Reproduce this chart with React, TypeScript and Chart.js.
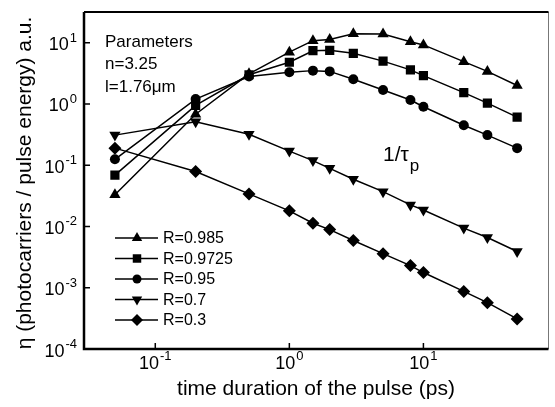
import React, { useEffect, useRef } from 'react';
import { Chart, registerables } from 'chart.js';

Chart.register(...registerables);

// ---- data ----
const durations = [0.05, 0.2, 0.5, 1, 1.5, 2, 3, 5, 8, 10, 20, 30, 50];
const seriesLabels = ['R=0.985', 'R=0.9725', 'R=0.95', 'R=0.7', 'R=0.3'];
const seriesMarkers = ['triangle', 'rect', 'circle', 'triangleDown', 'rectRot'];
const r0985 = [0.033, 0.68, 3.1, 7.0, 10.8, 11.3, 14.0, 13.9, 10.4, 9.2, 4.9, 3.4, 2.0];
const r09725 = [0.069, 0.95, 3.0, 4.8, 7.4, 7.5, 6.7, 5.0, 3.6, 2.9, 1.53, 1.03, 0.61];
const r095 = [0.125, 1.2, 2.8, 3.3, 3.5, 3.4, 2.53, 1.69, 1.16, 0.9, 0.45, 0.31, 0.19];
const r07 = [0.31, 0.51, 0.32, 0.17, 0.119, 0.089, 0.059, 0.037, 0.0225, 0.0186, 0.0094, 0.0066, 0.0039];
const r03 = [0.19, 0.079, 0.034, 0.018, 0.0113, 0.0089, 0.0059, 0.0036, 0.0023, 0.00177, 0.00087, 0.00057, 0.00031];
const seriesValues = [r0985, r09725, r095, r07, r03];

const xTickValues = [0.1, 1, 10];
const yTickValues = [1e-4, 1e-3, 1e-2, 1e-1, 1, 10];
const xTitle = 'time duration of the pulse (ps)';
const yTitle = 'η (photocarriers / pulse energy) a.u.';
const paramLines = ['Parameters', 'n=3.25', 'l=1.76μm'];
const slopeMain = '1/τ';
const slopeSub = 'p';

const xRange = [0.0294, 85.7];
const yRange = [1e-4, 31.7];

const FONT = '"Liberation Sans", Arial, Helvetica, sans-serif';

function markerPath(ctx: CanvasRenderingContext2D, style: string, x: number, y: number, r: number) {
  ctx.beginPath();
  if (style === 'triangle') {
    ctx.moveTo(x, y - r);
    ctx.lineTo(x + r * 0.866, y + r * 0.5);
    ctx.lineTo(x - r * 0.866, y + r * 0.5);
  } else if (style === 'triangleDown') {
    ctx.moveTo(x, y + r);
    ctx.lineTo(x + r * 0.866, y - r * 0.5);
    ctx.lineTo(x - r * 0.866, y - r * 0.5);
  } else if (style === 'rect') {
    const s = r * Math.SQRT1_2;
    ctx.rect(x - s, y - s, 2 * s, 2 * s);
  } else if (style === 'rectRot') {
    ctx.moveTo(x, y - r);
    ctx.lineTo(x + r, y);
    ctx.lineTo(x, y + r);
    ctx.lineTo(x - r, y);
  } else {
    ctx.arc(x, y, r, 0, Math.PI * 2);
  }
  ctx.closePath();
  ctx.fill();
}

function drawPow(ctx: CanvasRenderingContext2D, v: number, x: number, y: number, align: 'right' | 'center') {
  const exp = String(Math.round(Math.log10(v)));
  ctx.font = `18px ${FONT}`;
  const w1 = ctx.measureText('10').width;
  ctx.font = `13px ${FONT}`;
  const w2 = ctx.measureText(exp).width;
  const total = w1 + w2 + 1;
  const sx = align === 'right' ? x - total : x - total / 2;
  ctx.textAlign = 'left';
  ctx.textBaseline = 'alphabetic';
  ctx.font = `18px ${FONT}`;
  ctx.fillText('10', sx, y + 6.5);
  ctx.font = `13px ${FONT}`;
  ctx.fillText(exp, sx + w1 + 1, y - 2);
}

const overlay = {
  id: 'overlay',
  afterDraw(chart: any) {
    const ctx: CanvasRenderingContext2D = chart.ctx;
    const { left, right, top, bottom } = chart.chartArea;
    const xs = chart.scales.x;
    const ys = chart.scales.y;
    ctx.save();
    ctx.strokeStyle = '#000';
    ctx.fillStyle = '#000';
    // frame: thin grey right side, heavier left/bottom
    ctx.lineWidth = 1;
    ctx.strokeStyle = '#777';
    ctx.beginPath();
    ctx.moveTo(right, top);
    ctx.lineTo(right, bottom);
    ctx.stroke();
    ctx.strokeStyle = '#000';
    ctx.lineWidth = 2;
    ctx.beginPath();
    ctx.moveTo(left, top);
    ctx.lineTo(right, top);
    ctx.stroke();
    ctx.lineWidth = 2.5;
    ctx.beginPath();
    ctx.moveTo(left, top);
    ctx.lineTo(left, bottom);
    ctx.lineTo(right, bottom);
    ctx.stroke();
    // inward ticks
    ctx.lineWidth = 1.5;
    ctx.beginPath();
    for (const v of xTickValues) {
      const px = xs.getPixelForValue(v);
      ctx.moveTo(px, bottom);
      ctx.lineTo(px, bottom - 6);
    }
    for (const v of yTickValues) {
      const py = ys.getPixelForValue(v);
      ctx.moveTo(left, py);
      ctx.lineTo(left + 6, py);
    }
    ctx.stroke();
    // tick labels
    for (const v of xTickValues) drawPow(ctx, v, xs.getPixelForValue(v), 362, 'center');
    for (const v of yTickValues) drawPow(ctx, v, left - 7, ys.getPixelForValue(v) + 1, 'right');
    // axis titles
    ctx.font = `21px ${FONT}`;
    ctx.textAlign = 'center';
    ctx.textBaseline = 'middle';
    ctx.fillText(xTitle, 316, 389);
    ctx.save();
    ctx.translate(25, 183);
    ctx.rotate(-Math.PI / 2);
    ctx.fillText(yTitle, 0, 0);
    ctx.restore();
    // parameters
    ctx.font = `17px ${FONT}`;
    ctx.textAlign = 'left';
    paramLines.forEach((t, i) => ctx.fillText(t, 105, 42 + i * 22.5));
    // 1/tau_p
    ctx.font = `21px ${FONT}`;
    ctx.fillText(slopeMain, 383, 155);
    const wm = ctx.measureText(slopeMain).width;
    ctx.font = `17px ${FONT}`;
    ctx.fillText(slopeSub, 383 + wm + 1, 166);
    // legend
    ctx.font = `16px ${FONT}`;
    ctx.lineWidth = 1.5;
    seriesLabels.forEach((lab, i) => {
      const y = 238 + i * 20.5;
      ctx.beginPath();
      ctx.moveTo(115, y);
      ctx.lineTo(158, y);
      ctx.stroke();
      const r = seriesMarkers[i] === 'circle' ? 4.5 : 6;
      markerPath(ctx, seriesMarkers[i], 137, y, r);
      ctx.fillText(lab, 163, y + 1);
    });
    ctx.restore();
  },
};

export default function App() {
  const ref = useRef<HTMLCanvasElement>(null);
  useEffect(() => {
    const canvas = ref.current!;
    const styleFor = (m: string) => {
      if (m === 'triangle') return { pointStyle: 'triangle', pointRotation: 0, pointRadius: 6.5 };
      if (m === 'triangleDown') return { pointStyle: 'triangle', pointRotation: 180, pointRadius: 6.5 };
      if (m === 'rect') return { pointStyle: 'rect', pointRotation: 0, pointRadius: 6.5 };
      if (m === 'rectRot') return { pointStyle: 'rectRot', pointRotation: 0, pointRadius: 6.5 };
      return { pointStyle: 'circle', pointRotation: 0, pointRadius: 5 };
    };
    const datasets = seriesLabels.map((lab, i) => ({
      label: lab,
      data: durations.map((d, j) => ({ x: d, y: seriesValues[i][j] })),
      borderColor: '#000',
      backgroundColor: '#000',
      borderWidth: 1.5,
      pointBorderWidth: 0,
      pointBackgroundColor: '#000',
      tension: 0,
      ...styleFor(seriesMarkers[i]),
    }));
    const chart = new Chart(canvas, {
      type: 'line',
      data: { datasets },
      plugins: [overlay],
      options: {
        responsive: false,
        animation: false,
        devicePixelRatio: 1,
        layout: { padding: { top: 12, right: 2, left: 0, bottom: 0 } },
        plugins: { legend: { display: false }, tooltip: { enabled: false } },
        scales: {
          x: {
            type: 'logarithmic',
            min: xRange[0],
            max: xRange[1],
            grid: { display: false },
            border: { display: false },
            ticks: { display: false },
            afterFit: (s: any) => { s.height = 58; },
          },
          y: {
            type: 'logarithmic',
            min: yRange[0],
            max: yRange[1],
            grid: { display: false },
            border: { display: false },
            ticks: { display: false },
            afterFit: (s: any) => { s.width = 84; },
          },
        },
      } as any,
    });
    return () => chart.destroy();
  }, []);
  return (
    <div style={{ position: 'fixed', left: 0, top: 0, width: 555, height: 407, background: '#fff' }}>
      <canvas ref={ref} width={555} height={407} style={{ display: 'block' }} />
    </div>
  );
}
